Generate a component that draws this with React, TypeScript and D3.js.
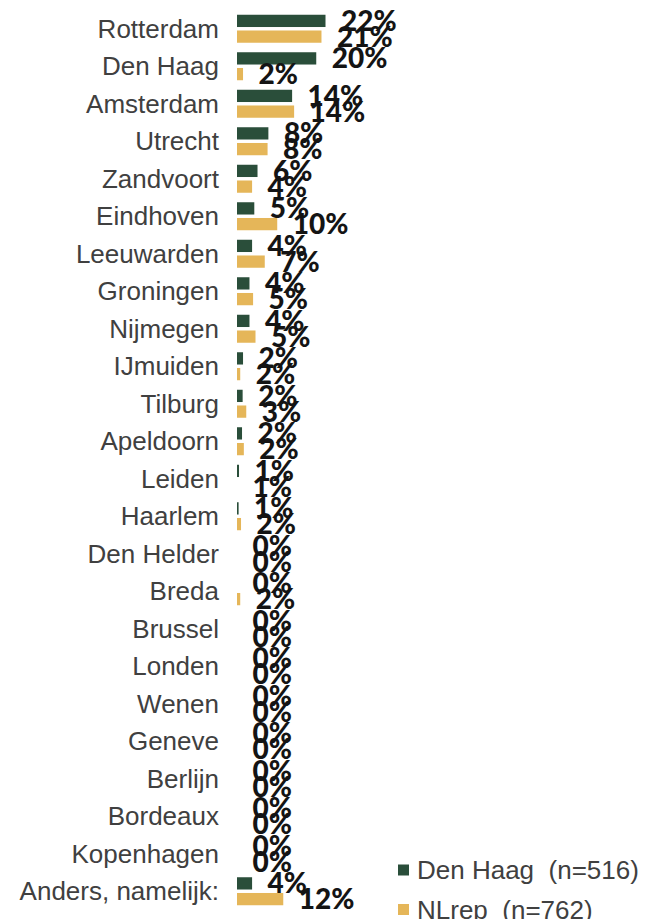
import React, { useEffect } from "react";
import * as d3 from "d3";

const categories = [
  "Rotterdam", "Den Haag", "Amsterdam", "Utrecht", "Zandvoort", "Eindhoven",
  "Leeuwarden", "Groningen", "Nijmegen", "IJmuiden", "Tilburg", "Apeldoorn",
  "Leiden", "Haarlem", "Den Helder", "Breda", "Brussel", "Londen", "Wenen",
  "Geneve", "Berlijn", "Bordeaux", "Kopenhagen", "Anders, namelijk:",
];
// bar lengths (percent)
const denHaagValues = [22, 19.7, 13.7, 7.8, 5.1, 4.3, 3.75, 3.1, 3.1, 1.5, 1.4, 1.25, 0.5, 0.4, 0, 0, 0, 0, 0, 0, 0, 0, 0, 3.75];
const nlrepValues = [21, 1.5, 14.2, 7.6, 3.75, 10, 6.9, 4, 4.6, 0.8, 2.3, 1.7, 0, 1.0, 0, 0.8, 0, 0, 0, 0, 0, 0, 0, 11.5];
// printed labels
const denHaagLabels = [22, 20, 14, 8, 6, 5, 4, 4, 4, 2, 2, 2, 1, 1, 0, 0, 0, 0, 0, 0, 0, 0, 0, 4];
const nlrepLabels = [21, 2, 14, 8, 4, 10, 7, 5, 5, 2, 3, 2, 1, 2, 0, 2, 0, 0, 0, 0, 0, 0, 0, 12];
const seriesNames = ["Den Haag  (n=516)", "NLrep  (n=762)"];

const W = 646;
const H = 919;
const GREEN = "#2a4e3a";
const YELLOW = "#e5b659";

export default function App() {
  useEffect(() => {
    document.body.style.margin = "0";
  }, []);

  const y = d3.scaleBand<string>().domain(categories).range([10, 10 + 24 * 37.5]).padding(0);
  const sub = d3.scaleBand<string>().domain(["a", "b"]).range([-14, 14]).paddingInner(0.22);
  const x = d3.scaleLinear().domain([0, 22]).range([237, 325.5]);

  const series = [
    { key: "a", values: denHaagValues, labels: denHaagLabels, color: GREEN },
    { key: "b", values: nlrepValues, labels: nlrepLabels, color: YELLOW },
  ];

  return (
    <svg width={W} height={H} style={{ display: "block", background: "#fff" }}>
      {categories.map((c) => {
        const cy = (y(c) as number) + y.bandwidth() / 2;
        return (
          <text
            key={c}
            x={219}
            y={cy}
            dy="0.35em"
            textAnchor="end"
            fontFamily="'Liberation Sans', Arial, sans-serif"
            fontSize={26}
            fill="#404040"
          >
            {c}
          </text>
        );
      })}
      {series.map((s) =>
        categories.map((c, i) => {
          const cy = (y(c) as number) + y.bandwidth() / 2;
          const by = cy + (sub(s.key) as number);
          const w = x(s.values[i]) - x(0);
          return w > 0 ? (
            <rect key={s.key + c} x={x(0)} y={by} width={w} height={sub.bandwidth()} fill={s.color} />
          ) : null;
        })
      )}
      {series.map((s) =>
        categories.map((c, i) => {
          const cy = (y(c) as number) + y.bandwidth() / 2;
          const by = cy + (sub(s.key) as number) + sub.bandwidth() / 2;
          return (
            <text
              key={"l" + s.key + c}
              x={x(s.values[i]) + 15.5}
              y={by}
              dy="0.36em"
              fontFamily="Lato, 'Open Sans', sans-serif"
              fontWeight={900}
              fontSize={28}
              fill="#141414"
            >
              {s.labels[i] + "%"}
            </text>
          );
        })
      )}
      {seriesNames.map((n, i) => (
        <g key={n} transform={`translate(398, ${879 + i * 39.5})`}>
          <rect x={0} y={-14.5} width={11} height={11} fill={i === 0 ? GREEN : YELLOW} />
          <text
            x={19}
            y={0}
            fontFamily="'Liberation Sans', Arial, sans-serif"
            fontSize={26}
            fill="#404040"
            style={{ whiteSpace: "pre" }}
          >
            {n}
          </text>
        </g>
      ))}
    </svg>
  );
}
